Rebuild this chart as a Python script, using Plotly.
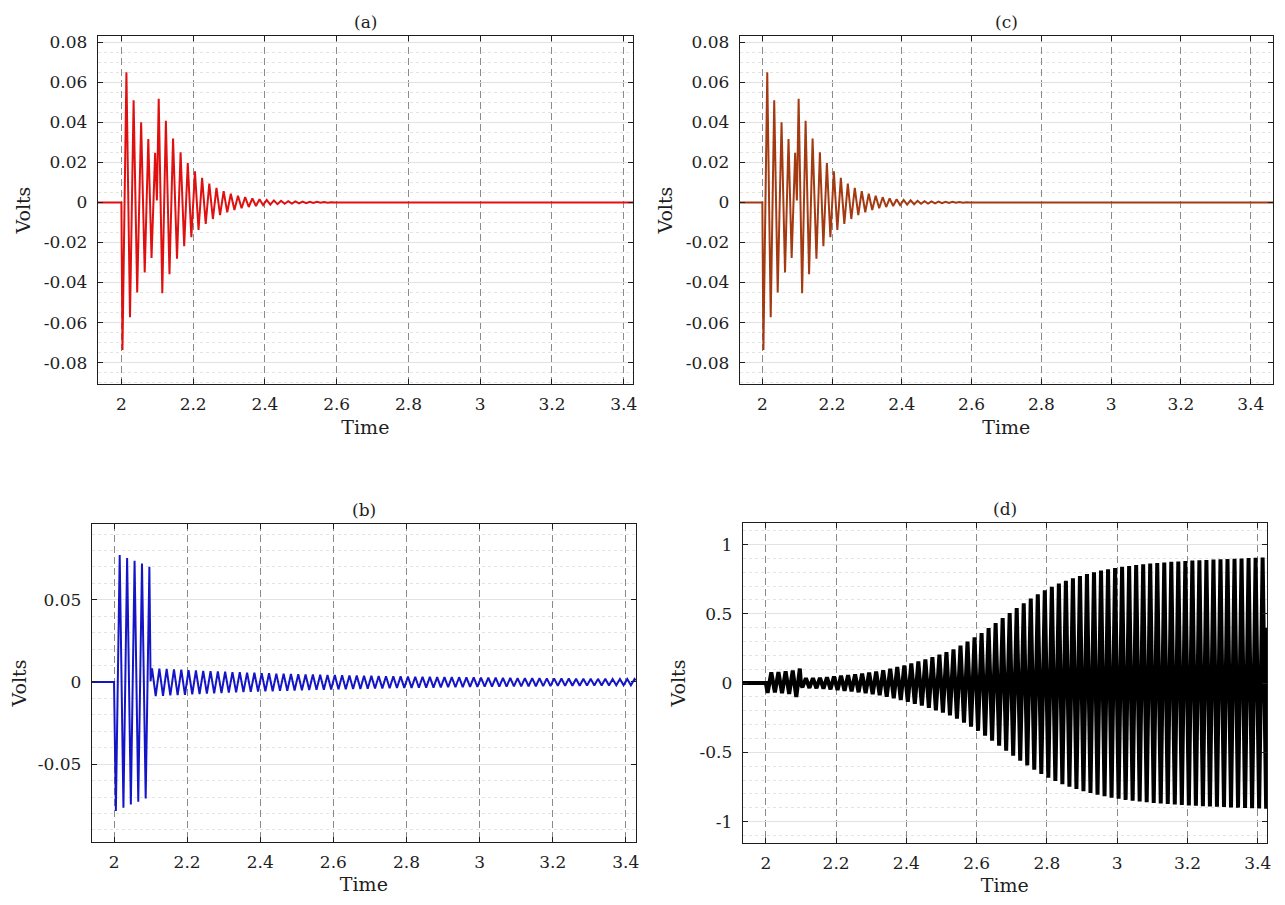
"""Four panels of voltage transients."""

import plotly.graph_objects as go

# extremes of the damped transient in panels (a) and (c)
time_ac = [
    1.934, 2.0, 2.003, 2.014, 2.024, 2.034, 2.044, 2.055, 2.065, 2.075,
    2.084, 2.094, 2.099, 2.104, 2.114, 2.124, 2.134, 2.144, 2.155, 2.165,
    2.175, 2.185, 2.195,
    2.205, 2.215, 2.225, 2.235, 2.245, 2.255, 2.265, 2.275, 2.285, 2.295,
    2.305, 2.315, 2.325, 2.335, 2.345, 2.355, 2.365, 2.375, 2.385, 2.395,
    2.405, 2.415, 2.425, 2.435, 2.445, 2.455, 2.465, 2.475, 2.485, 2.495,
    2.505, 2.515, 2.525, 2.535, 2.545, 2.555, 2.565, 2.575, 2.585, 2.595,
    2.605, 2.615, 3.47,
]
volts_ac = [
    0, 0, -0.0737, 0.065, -0.0573, 0.051, -0.045, 0.040, -0.035, 0.0316,
    -0.0277, 0.0247, 0.001, 0.0517, -0.0453, 0.0407, -0.0359, 0.0319, -0.0281, 0.025,
    -0.0219, 0.0196, -0.0174,
    0.0155, -0.0137, 0.0122, -0.0107, 0.0094, -0.0083, 0.0073, -0.0064, 0.0056, -0.0049,
    0.0043, -0.0038, 0.0033, -0.0029, 0.0026, -0.0023, 0.002, -0.0018, 0.0016, -0.0014,
    0.0012, -0.0011, 0.001, -0.0009, 0.0008, -0.0007, 0.0006, -0.0006, 0.0005, -0.0005,
    0.0004, -0.0004, 0.0003, -0.0003, 0.0003, -0.0002, 0.0002, -0.0002, 0.0001, -0.0001,
    0.0001, 0, 0,
]

# extremes of the 50 Hz signals in panels (b) and (d)
time_bd = [
    1.934, 2.0, 2.005, 2.0155, 2.0257, 2.0358, 2.046, 2.0562, 2.0663, 2.0765,
    2.0866, 2.0967, 2.1,
    2.104, 2.114, 2.124, 2.134, 2.144, 2.154, 2.164, 2.174, 2.184, 2.194,
    2.204, 2.214, 2.224, 2.234, 2.244, 2.254, 2.264, 2.274, 2.284, 2.294,
    2.304, 2.314, 2.324, 2.334, 2.344, 2.354, 2.364, 2.374, 2.384, 2.394,
    2.404, 2.414, 2.424, 2.434, 2.444, 2.454, 2.464, 2.474, 2.484, 2.494,
    2.504, 2.514, 2.524, 2.534, 2.544, 2.554, 2.564, 2.574, 2.584, 2.594,
    2.604, 2.614, 2.624, 2.634, 2.644, 2.654, 2.664, 2.674, 2.684, 2.694,
    2.704, 2.714, 2.724, 2.734, 2.744, 2.754, 2.764, 2.774, 2.784, 2.794,
    2.804, 2.814, 2.824, 2.834, 2.844, 2.854, 2.864, 2.874, 2.884, 2.894,
    2.904, 2.914, 2.924, 2.934, 2.944, 2.954, 2.964, 2.974, 2.984, 2.994,
    3.004, 3.014, 3.024, 3.034, 3.044, 3.054, 3.064, 3.074, 3.084, 3.094,
    3.104, 3.114, 3.124, 3.134, 3.144, 3.154, 3.164, 3.174, 3.184, 3.194,
    3.204, 3.214, 3.224, 3.234, 3.244, 3.254, 3.264, 3.274, 3.284, 3.294,
    3.304, 3.314, 3.324, 3.334, 3.344, 3.354, 3.364, 3.374, 3.384, 3.394,
    3.404, 3.414, 3.424, 3.427,
]
volts_b = [
    0, 0, -0.0785, 0.0773, -0.0765, 0.0754, -0.0745, 0.0738, -0.0729, 0.072,
    -0.0709, 0.0701, 0.0005,
    0.0083, -0.0086, 0.0081, -0.0084, 0.0079, -0.0082, 0.0077, -0.008, 0.0075, -0.0078,
    0.0072, -0.0075, 0.007, -0.0073, 0.0068, -0.0071, 0.0066, -0.0069, 0.0064, -0.0067,
    0.0062, -0.0065, 0.006, -0.0063, 0.0059, -0.0062, 0.0057, -0.006, 0.0056, -0.0059,
    0.0054, -0.0057, 0.0053, -0.0056, 0.0051, -0.0054, 0.005, -0.0053, 0.0049, -0.0052,
    0.0047, -0.005, 0.0046, -0.0049, 0.0045, -0.0048, 0.0044, -0.0047, 0.0043, -0.0046,
    0.0042, -0.0045, 0.0041, -0.0044, 0.004, -0.0043, 0.0039, -0.0042, 0.0038, -0.0041,
    0.0037, -0.004, 0.0036, -0.0039, 0.0035, -0.0038, 0.0034, -0.0037, 0.0034, -0.0036,
    0.0033, -0.0036, 0.0032, -0.0035, 0.0032, -0.0034, 0.0031, -0.0034, 0.003, -0.0033,
    0.003, -0.0032, 0.0029, -0.0032, 0.0029, -0.0031, 0.0028, -0.003, 0.0028, -0.003,
    0.0027, -0.0029, 0.0026, -0.0029, 0.0026, -0.0028, 0.0025, -0.0028, 0.0025, -0.0027,
    0.0024, -0.0027, 0.0024, -0.0026, 0.0023, -0.0026, 0.0023, -0.0025, 0.0022, -0.0025,
    0.0022, -0.0024, 0.0021, -0.0024, 0.0021, -0.0023, 0.002, -0.0023, 0.002, -0.0022,
    0.002, -0.0022, 0.0019, -0.0021, 0.0019, -0.0021, 0.0018, -0.002, 0.0018, -0.002,
    0.0018, -0.002, 0.0018, 0.001,
]
volts_d = [
    0, 0, -0.07, 0.078, -0.068, 0.08, -0.072, 0.085, -0.078, 0.09,
    -0.1, 0.105, -0.01,
    -0.03, 0.035, -0.035, 0.036, -0.037, 0.038, -0.04, 0.042, -0.045, 0.048,
    -0.05, 0.053, -0.055, 0.058, -0.06, 0.063, -0.066, 0.069, -0.072, 0.076,
    -0.08, 0.084, -0.088, 0.093, -0.098, 0.104, -0.11, 0.116, -0.122, 0.128,
    -0.135, 0.142, -0.149, 0.156, -0.163, 0.171, -0.179, 0.187, -0.196, 0.205,
    -0.214, 0.223, -0.233, 0.244, -0.256, 0.27, -0.285, 0.3, -0.315, 0.33,
    -0.345, 0.362, -0.38, 0.398, -0.416, 0.434, -0.452, 0.47, -0.488, 0.506,
    -0.524, 0.542, -0.56, 0.577, -0.594, 0.61, -0.626, 0.641, -0.656, 0.67,
    -0.683, 0.695, -0.707, 0.718, -0.729, 0.739, -0.748, 0.757, -0.765, 0.773,
    -0.78, 0.787, -0.794, 0.8, -0.806, 0.812, -0.817, 0.822, -0.827, 0.831,
    -0.835, 0.839, -0.843, 0.846, -0.849, 0.852, -0.855, 0.858, -0.86, 0.863,
    -0.865, 0.867, -0.869, 0.871, -0.873, 0.875, -0.877, 0.878, -0.88, 0.881,
    -0.883, 0.884, -0.886, 0.887, -0.888, 0.889, -0.891, 0.892, -0.893, 0.894,
    -0.895, 0.896, -0.897, 0.898, -0.899, 0.9, -0.901, 0.902, -0.903, 0.904,
    -0.905, 0.906, -0.907, 0.4,
]

x_ticks = [2.0, 2.2, 2.4, 2.6, 2.8, 3.0, 3.2, 3.4]
x_labels = ["2", "2.2", "2.4", "2.6", "2.8", "3", "3.2", "3.4"]
y_ticks_ac = [-0.08, -0.06, -0.04, -0.02, 0, 0.02, 0.04, 0.06, 0.08]
y_labels_ac = ["-0.08", "-0.06", "-0.04", "-0.02", "0", "0.02", "0.04", "0.06", "0.08"]
y_ticks_b = [-0.05, 0, 0.05]
y_labels_b = ["-0.05", "0", "0.05"]
y_ticks_d = [-1, -0.5, 0, 0.5, 1]
y_labels_d = ["-1", "-0.5", "0", "0.5", "1"]
panel_titles = ["(a)", "(c)", "(b)", "(d)"]

FONT = "DejaVu Serif"
INK = "#1e1e1e"
PAGE_PAD = 8  # the page body adds this much margin around the plot
W, H = 1285 - 2 * PAGE_PAD, 905 - 2 * PAGE_PAD


def px_x(a, b):
    return [(a - PAGE_PAD) / W, (b - PAGE_PAD) / W]


def px_y(top, bottom):
    return [1 - (bottom - PAGE_PAD) / H, 1 - (top - PAGE_PAD) / H]


def x_axis(domain, anchor, rng):
    return dict(
        domain=domain, anchor=anchor, range=rng,
        tickvals=x_ticks, ticktext=x_labels,
        ticks="inside", ticklen=5, tickcolor=INK, ticklabelstandoff=4,
        showline=True, linecolor=INK, linewidth=1, mirror="ticks",
        showgrid=True, gridcolor="#8a8a8a", griddash="7px,4px", gridwidth=1,
        zeroline=False, tickfont=dict(family=FONT, size=17, color=INK),
        title=dict(text="Time", standoff=7, font=dict(family=FONT, size=19, color=INK)),
    )


def y_axis(domain, anchor, rng, vals, labels, minor_step):
    return dict(
        domain=domain, anchor=anchor, range=rng,
        tickvals=vals, ticktext=labels,
        ticks="inside", ticklen=5, tickcolor=INK, ticklabelstandoff=6,
        showline=True, linecolor=INK, linewidth=1, mirror="ticks",
        showgrid=True, gridcolor="#e2e2e2", gridwidth=1,
        minor=dict(dtick=minor_step, tick0=0, showgrid=True, gridcolor="#e4e4e4",
                   griddash="dot", ticks=""),
        zeroline=False, tickfont=dict(family=FONT, size=17, color=INK),
        title=dict(text="Volts", standoff=8, font=dict(family=FONT, size=19, color=INK)),
    )


fig = go.Figure()
fig.add_trace(go.Scatter(x=time_ac, y=volts_ac, mode="lines", xaxis="x", yaxis="y",
                         line=dict(color="#e01010", width=2)))
fig.add_trace(go.Scatter(x=time_ac, y=volts_ac, mode="lines", xaxis="x2", yaxis="y2",
                         line=dict(color="#a33a12", width=2)))
fig.add_trace(go.Scatter(x=time_bd, y=volts_b, mode="lines", xaxis="x3", yaxis="y3",
                         line=dict(color="#1515c8", width=2)))
fig.add_trace(go.Scatter(x=time_bd, y=volts_d, mode="lines", xaxis="x4", yaxis="y4",
                         line=dict(color="#000000", width=4)))

dom_x = [px_x(98, 635), px_x(742, 1277), px_x(92, 638), px_x(745, 1271)]
dom_y = [px_y(32, 382), px_y(32, 382), px_y(522, 842), px_y(521, 843)]

fig.update_layout(
    width=W, height=H, autosize=False, showlegend=False,
    margin=dict(l=0, r=0, t=0, b=0),
    paper_bgcolor="white", plot_bgcolor="white",
    font=dict(family=FONT, color=INK),
    xaxis=x_axis(dom_x[0], "y", [1.934, 3.426]),
    yaxis=y_axis(dom_y[0], "x", [-0.0908, 0.0831], y_ticks_ac, y_labels_ac, 0.005),
    xaxis2=x_axis(dom_x[1], "y2", [1.935, 3.464]),
    yaxis2=y_axis(dom_y[1], "x2", [-0.0908, 0.0831], y_ticks_ac, y_labels_ac, 0.005),
    xaxis3=x_axis(dom_x[2], "y3", [1.939, 3.428]),
    yaxis3=y_axis(dom_y[2], "x3", [-0.0975, 0.0963], y_ticks_b, y_labels_b, 0.01),
    xaxis4=x_axis(dom_x[3], "y4", [1.934, 3.4265]),
    yaxis4=y_axis(dom_y[3], "x4", [-1.156, 1.158], y_ticks_d, y_labels_d, 0.1),
)

for title, dx, dy in zip(panel_titles, dom_x, dom_y):
    fig.add_annotation(
        text=title, xref="paper", yref="paper",
        x=(dx[0] + dx[1]) / 2, y=dy[1], xanchor="center", yanchor="bottom",
        yshift=2, showarrow=False, font=dict(family=FONT, size=17, color=INK),
    )

fig.write_html("out.html")
